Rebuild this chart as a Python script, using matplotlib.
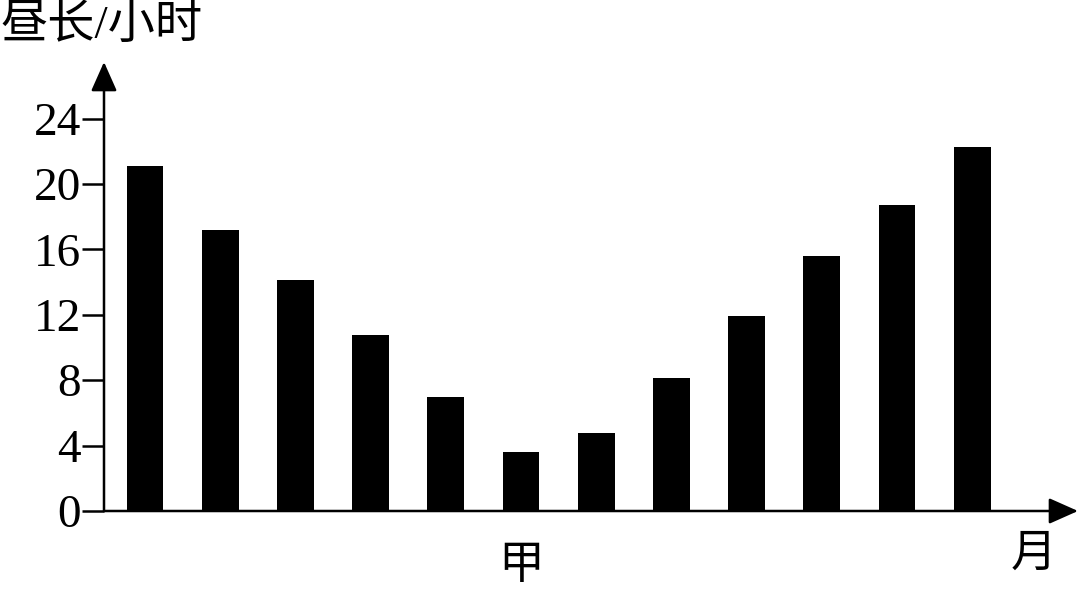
import matplotlib
matplotlib.use("Agg")
import matplotlib.pyplot as plt

plt.rcParams['font.family'] = ['Liberation Serif', 'Noto Sans CJK SC', 'DejaVu Sans']

# data
months = list(range(1, 13))
day_length = [21.1, 17.2, 14.15, 10.75, 7.0, 3.6, 4.75, 8.15, 11.9, 15.6, 18.7, 22.25]
x_labels = ['', '', '', '', '', '甲', '', '', '', '', '', '']
y_ticks = [0, 4, 8, 12, 16, 20, 24]
y_title = '昼长/小时'
x_title = '月'

W, H = 1080, 596
fig = plt.figure(figsize=(W / 100, H / 100), dpi=100)

left_px, right_px, bottom_px, top_px = 104, 1078, 511, 62
ax = fig.add_axes([left_px / W, (H - bottom_px) / H,
                   (right_px - left_px) / W, (bottom_px - top_px) / H])

pos = list(range(len(months)))
ax.bar(pos, day_length, width=0.488, color='black', edgecolor='none', zorder=3)

px_per_unit = 75.2
xmin = (left_px - 145) / px_per_unit
ax.set_xlim(xmin, xmin + (right_px - left_px) / px_per_unit)
ax.set_ylim(0, (bottom_px - top_px) / 16.35)

for s in ax.spines.values():
    s.set_visible(False)

ax.set_yticks(y_ticks)
ax.set_yticklabels([str(t) for t in y_ticks], fontsize=34)
ax.tick_params(axis='y', length=15.5, width=1.8, pad=1, direction='out', color='black')

ax.set_xticks(pos)
ax.set_xticklabels(x_labels, fontsize=33)
for lab in ax.get_xticklabels():
    lab.set_x(lab.get_position()[0])
ax.tick_params(axis='x', length=0, pad=25)

lw = 1.8
arrow = dict(arrowstyle='-|>,head_length=0.9,head_width=0.4', mutation_scale=20,
             lw=lw, color='black', shrinkA=0, shrinkB=0)
ax.annotate('', xy=(1, 0), xytext=(0, 0), xycoords='axes fraction',
            textcoords='axes fraction', arrowprops=arrow, annotation_clip=False)
ax.annotate('', xy=(0, 1), xytext=(0, 0), xycoords='axes fraction',
            textcoords='axes fraction', arrowprops=arrow, annotation_clip=False)

fig.text(0 / W, 1 - 26 / H, y_title, fontsize=34,
         ha='left', va='center')
fig.text(1034 / W, 1 - 556 / H, x_title, fontsize=33,
         ha='center', va='center')

fig.savefig('out.png', dpi=100, facecolor='white')
